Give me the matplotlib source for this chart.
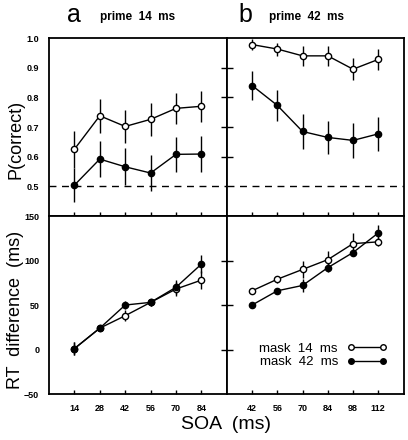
import matplotlib
matplotlib.use("Agg")
import matplotlib.pyplot as plt
from matplotlib.lines import Line2D

plt.rcParams['font.family'] = ['Liberation Sans', 'DejaVu Sans']

# SOA values (ms) for each prime duration
soa_a = [14, 28, 42, 56, 70, 84]
soa_b = [42, 56, 70, 84, 98, 112]

# P(correct), prime 14 ms
pc_a_m14 = [0.625, 0.738, 0.702, 0.726, 0.763, 0.770]
pc_a_m14_err = [0.062, 0.058, 0.056, 0.055, 0.053, 0.052]
pc_a_m42 = [0.504, 0.592, 0.566, 0.545, 0.608, 0.609]
pc_a_m42_err = [0.058, 0.060, 0.062, 0.062, 0.060, 0.060]

# P(correct), prime 42 ms
pc_b_m14 = [0.978, 0.963, 0.940, 0.940, 0.895, 0.928]
pc_b_m14_err = [0.018, 0.022, 0.033, 0.033, 0.037, 0.036]
pc_b_m42 = [0.840, 0.773, 0.685, 0.665, 0.655, 0.677]
pc_b_m42_err = [0.048, 0.052, 0.058, 0.057, 0.058, 0.058]

# RT difference (ms), prime 14 ms
rt_a_m14 = [1, 24, 38, 53, 68, 78]
rt_a_m14_err = [7, 3, 6, 4, 8, 10]
rt_a_m42 = [1, 24, 50, 53, 70, 96]
rt_a_m42_err = [7, 3, 5, 4, 8, 10]

# RT difference (ms), prime 42 ms
rt_b_m14 = [66, 79, 90, 101, 119, 121]
rt_b_m14_err = [2, 4, 10, 10, 12, 5]
rt_b_m42 = [50, 66, 72, 92, 109, 131]
rt_b_m42_err = [2, 3, 7, 5, 4, 9]

fig = plt.figure(figsize=(4.08, 4.40), dpi=100)

L, W = 0.120, 0.436
R, WR = 0.556, 0.433
B_top, B_bot, H = 0.509, 0.1045, 0.4045

ax_a = fig.add_axes([L, B_top, W, H])
ax_b = fig.add_axes([R, B_top, WR, H])
ax_c = fig.add_axes([L, B_bot, W, H])
ax_d = fig.add_axes([R, B_bot, WR, H])

def draw(ax, y1, e1, y2, e2):
    pos = range(1, 7)
    ax.errorbar(pos, y1, yerr=e1, color='black', lw=1.0, elinewidth=1.0,
                marker='o', ms=4.5, mfc='white', mec='black', mew=1.0,
                capsize=0, zorder=3)
    ax.errorbar(pos, y2, yerr=e2, color='black', lw=1.0, elinewidth=1.0,
                marker='o', ms=4.5, mfc='black', mec='black', mew=1.0,
                capsize=0, zorder=3)
    ax.set_xlim(0, 7)
    for s in ax.spines.values():
        s.set_linewidth(1.3)

draw(ax_a, pc_a_m14, pc_a_m14_err, pc_a_m42, pc_a_m42_err)
draw(ax_b, pc_b_m14, pc_b_m14_err, pc_b_m42, pc_b_m42_err)
draw(ax_c, rt_a_m14, rt_a_m14_err, rt_a_m42, rt_a_m42_err)
draw(ax_d, rt_b_m14, rt_b_m14_err, rt_b_m42, rt_b_m42_err)

for ax in (ax_a, ax_b):
    ax.set_ylim(0.4, 1.0)
    ax.axhline(0.5, color='black', lw=1.0, ls=(0, (5, 4)), zorder=1)
    ax.set_xticks(range(1, 7))
    ax.set_xticklabels([])
for ax in (ax_c, ax_d):
    ax.set_ylim(-50, 150)
    ax.set_xticks(range(1, 7))

ax_a.set_yticks([0.5, 0.6, 0.7, 0.8, 0.9, 1.0])
ax_a.set_yticklabels(['0.5', '0.6', '0.7', '0.8', '0.9', '1.0'])
ax_c.set_yticks([-50, 0, 50, 100, 150])
ax_c.set_xticklabels([str(v) for v in soa_a])
ax_d.set_xticklabels([str(v) for v in soa_b])

ax_b.set_yticks([0.6, 0.7, 0.8, 0.9])
ax_b.set_yticklabels([])
ax_d.set_yticks([0, 50, 100])
ax_d.set_yticklabels([])

for ax in (ax_a, ax_b, ax_c, ax_d):
    ax.tick_params(axis='x', direction='in', length=3, width=1.0, labelsize=6.5, pad=7)
    ax.tick_params(axis='y', direction='in', length=3, width=1.0, labelsize=6.5)
    for t in ax.get_xticklabels() + ax.get_yticklabels():
        t.set_fontweight('bold')
for ax in (ax_b, ax_d):
    ax.tick_params(axis='y', direction='inout', length=8)
ax_a.tick_params(axis='y', length=0, pad=7)
ax_c.tick_params(axis='y', length=0, pad=7)

ax_a.set_ylabel('P(correct)', fontsize=13)
ax_c.set_ylabel('RT  difference  (ms)', fontsize=13)
ax_a.yaxis.set_label_coords(-0.14, 0.43)
ax_c.yaxis.set_label_coords(-0.14, 0.47)

fig.text(0.555, 0.035, 'SOA  (ms)', fontsize=14, ha='center', va='center')

fig.text(0.165, 0.965, 'a', fontsize=18, ha='left', va='center')
fig.text(0.245, 0.962, 'prime  14  ms', fontsize=8.5, fontweight='bold', ha='left', va='center')
fig.text(0.585, 0.965, 'b', fontsize=18, ha='left', va='center')
fig.text(0.66, 0.962, 'prime  42  ms', fontsize=8.5, fontweight='bold', ha='left', va='center')

h1 = Line2D([], [], color='black', lw=1.0, marker='o', ms=4, mfc='white', mec='black')
h2 = Line2D([], [], color='black', lw=1.0, marker='o', ms=4, mfc='black', mec='black')
ax_d.legend([h1, h2], ['mask  14  ms', 'mask  42  ms'], loc='lower right',
            bbox_to_anchor=(0.905, 0.145), frameon=False, markerfirst=False,
            numpoints=2, fontsize=9.5, handlelength=3.0, handletextpad=0.7,
            labelspacing=0.1, borderpad=0, borderaxespad=0)

fig.savefig('out.png', dpi=100)
